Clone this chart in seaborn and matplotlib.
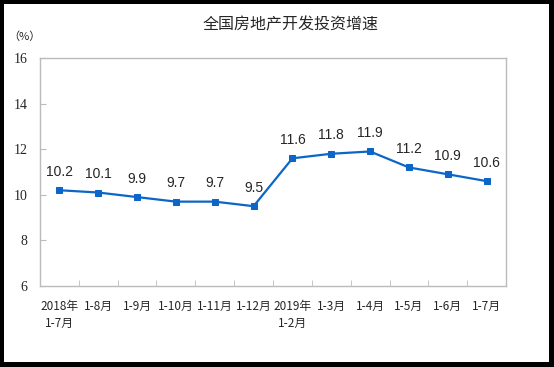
import matplotlib
matplotlib.use('Agg')
import matplotlib.pyplot as plt
import seaborn as sns
import pandas as pd
from matplotlib.patches import Rectangle

# periods and growth rate (%)
periods = ['2018年\n1-7月', '1-8月', '1-9月', '1-10月', '1-11月', '1-12月',
           '2019年\n1-2月', '1-3月', '1-4月', '1-5月', '1-6月', '1-7月']
growth = [10.2, 10.1, 9.9, 9.7, 9.7, 9.5, 11.6, 11.8, 11.9, 11.2, 10.9, 10.6]
y_ticks = [6, 8, 10, 12, 14, 16]

sns.set_style('white')
plt.rcParams['font.family'] = ['Noto Sans CJK SC', 'DejaVu Sans']

df = pd.DataFrame({'idx': range(len(periods)), 'growth': growth})

fig = plt.figure(figsize=(5.54, 3.67), dpi=100)
fig.patch.set_facecolor('black')
fig.patches.append(Rectangle((4 / 554, 5 / 367), 545 / 554, 358 / 367,
                             transform=fig.transFigure, facecolor='white',
                             edgecolor='none', zorder=-5))

ax = fig.add_axes([40 / 554, 81 / 367, 466 / 554, 228 / 367])
ax.set_facecolor('white')
blue = '#0c66c8'
sns.lineplot(data=df, x='idx', y='growth', ax=ax, color=blue, linewidth=1.6,
             marker='s', markersize=5, markeredgecolor=blue)

for i, v in enumerate(growth):
    ax.text(i, v + 0.5, f'{v}', ha='center', va='bottom', fontsize=10,
            family=['Liberation Sans'])

ax.set_xlim(-0.5, len(periods) - 0.5)
ax.set_ylim(6, 16)
ax.set_yticks(y_ticks)
ax.set_yticklabels([str(t) for t in y_ticks], family=['Liberation Serif'], fontsize=10)
ax.set_xticks(range(len(periods)))
ax.set_xticklabels(periods, fontsize=8.5, linespacing=1.45)
ax.set_xticks([i + 0.5 for i in range(len(periods) - 1)], minor=True)
ax.tick_params(axis='x', which='major', length=0, pad=10)
ax.tick_params(axis='x', which='minor', direction='in', length=4, color='#bbbbbb', bottom=True)
ax.tick_params(axis='y', direction='in', length=4, color='#bbbbbb', left=True, pad=9)
for sp in ax.spines.values():
    sp.set_color('#bbbbbb')
    sp.set_linewidth(1)
ax.set_xlabel('')
ax.set_ylabel('')

fig.text(291 / 554, 1 - 25 / 367, '全国房地产开发投资增速', ha='center', va='center', fontsize=11.5)
fig.text(24 / 554, 1 - 37 / 367, '（%）', ha='center', va='center', fontsize=8)

fig.savefig('out.png', dpi=100, facecolor=fig.get_facecolor())
